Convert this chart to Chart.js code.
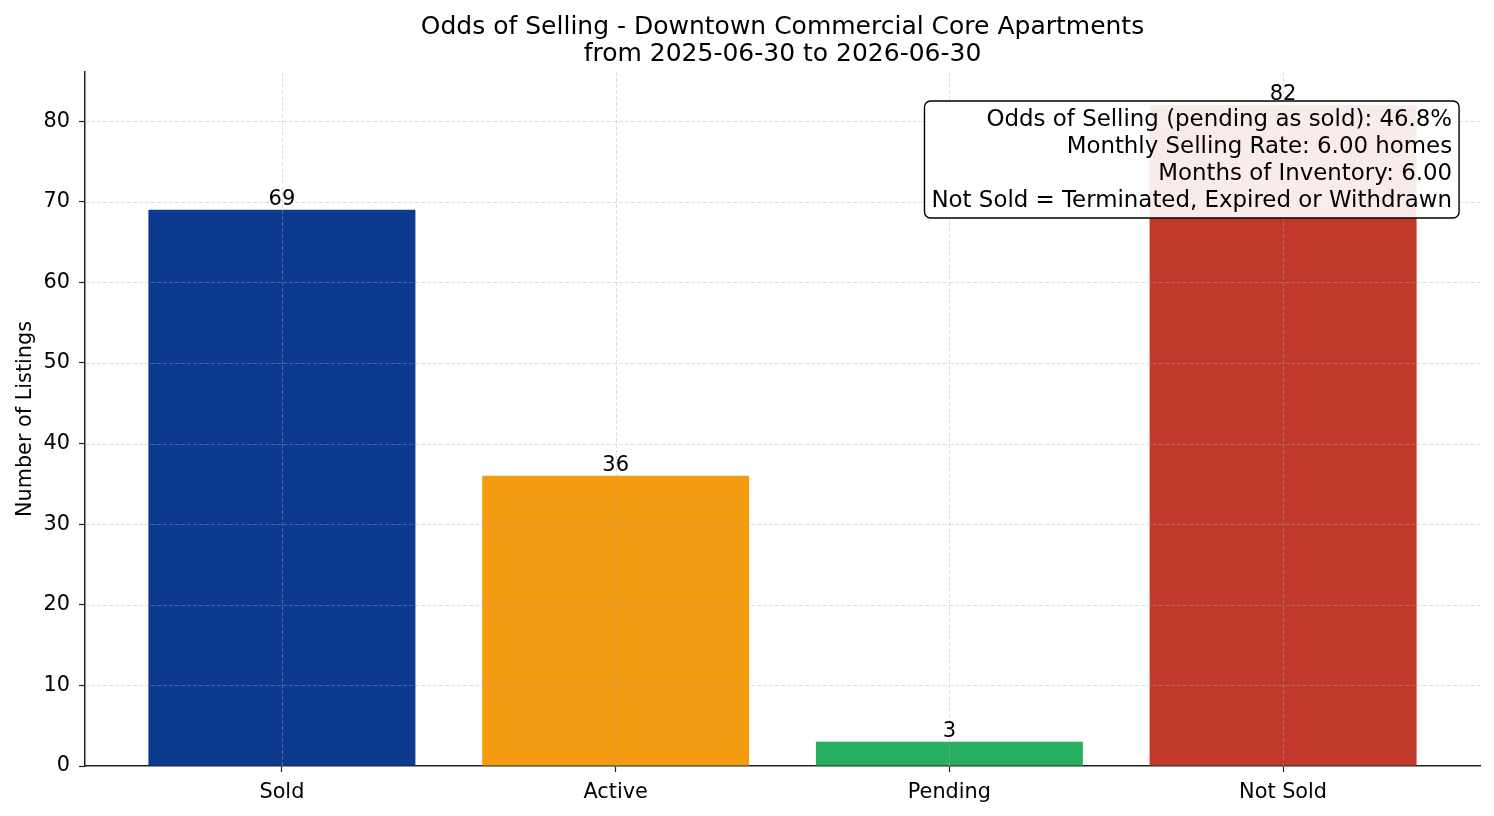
<!DOCTYPE html>
<html>
<head>
<meta charset="utf-8">
<script src="https://cdn.jsdelivr.net/npm/chart.js@4.4.1/dist/chart.umd.min.js"></script>
<style>
  html, body { margin: 0; padding: 0; background: #fff; }
  #wrap { width: 1494px; height: 816px; }
</style>
</head>
<body>
<div id="wrap"><canvas id="chart" width="1494" height="816"></canvas></div>
<script>
const categories = ["Sold", "Active", "Pending", "Not Sold"];
const counts = [69, 36, 3, 82];
const barColors = ["#0b3a8e", "#f39c12", "#27ae60", "#c0392b"];
const yTicks = [0, 10, 20, 30, 40, 50, 60, 70, 80];
const titleLines = ["Odds of Selling - Downtown Commercial Core Apartments", "from 2025-06-30 to 2026-06-30"];
const infoLines = [
  "Odds of Selling (pending as sold): 46.8%",
  "Monthly Selling Rate: 6.00 homes",
  "Months of Inventory: 6.00",
  "Not Sold = Terminated, Expired or Withdrawn"
];

const FONT = "'DejaVu Sans', sans-serif";

// title over the axes, grid over bars, value labels, info box
const overlay = {
  id: "overlay",
  afterDraw(chart) {
    const { ctx, chartArea: a } = chart;
    ctx.save();
    ctx.fillStyle = "#000";
    ctx.font = "25px " + FONT;
    ctx.textAlign = "center";
    ctx.textBaseline = "middle";
    const cx = (a.left + a.right) / 2;
    titleLines.forEach((t, i) => ctx.fillText(t, cx, 27 + i * 27));
    ctx.restore();
  },
  afterDatasetsDraw(chart) {
    const { ctx, chartArea: a, scales } = chart;
    ctx.save();
    ctx.strokeStyle = "rgba(176,176,176,0.5)";
    ctx.lineWidth = 0.8;
    ctx.setLineDash([4, 2]);
    yTicks.forEach(v => {
      if (v === 0) return;
      const y = Math.round(scales.y.getPixelForValue(v)) + 0.5;
      ctx.beginPath(); ctx.moveTo(a.left, y); ctx.lineTo(a.right, y); ctx.stroke();
    });
    categories.forEach((c, i) => {
      const x = Math.round(scales.x.getPixelForValue(i)) + 0.5;
      ctx.beginPath(); ctx.moveTo(x, a.top); ctx.lineTo(x, a.bottom); ctx.stroke();
    });
    ctx.setLineDash([]);

    // value labels
    ctx.fillStyle = "#000";
    ctx.font = "21px " + FONT;
    ctx.textAlign = "center";
    ctx.textBaseline = "alphabetic";
    chart.getDatasetMeta(0).data.forEach((bar, i) => {
      ctx.fillText(String(counts[i]), bar.x, bar.y - 5);
    });

    // info box
    ctx.font = "22.9px " + FONT;
    const lh = 26.7;
    const right = a.left + 0.98 * (a.right - a.left);
    const by = a.top + 29;
    const w = Math.max(...infoLines.map(t => ctx.measureText(t).width));
    const pad = 7;
    const bx = right - w - pad, bw = w + 2 * pad, bh = 117;
    ctx.beginPath();
    ctx.roundRect(bx, by, bw, bh, 6);
    ctx.fillStyle = "rgba(255,255,255,0.9)";
    ctx.fill();
    ctx.strokeStyle = "#000";
    ctx.lineWidth = 1.4;
    ctx.stroke();
    ctx.fillStyle = "#000";
    ctx.textAlign = "right";
    ctx.textBaseline = "middle";
    infoLines.forEach((t, i) => {
      ctx.fillText(t, right, by + 19.5 + i * lh);
    });
    ctx.restore();
  }
};

new Chart(document.getElementById("chart"), {
  type: "bar",
  data: {
    datasets: [{
      data: categories.map((c, i) => ({ x: i, y: counts[i] })),
      backgroundColor: barColors,
      borderWidth: 0,
      categoryPercentage: 0.8,
      barPercentage: 1.0
    }]
  },
  options: {
    responsive: false,
    animation: false,
    devicePixelRatio: 1,
    layout: { padding: { left: 0, right: 14, top: 72, bottom: 0 } },
    plugins: {
      legend: { display: false },
      tooltip: { enabled: false },
      title: { display: false }
    },
    scales: {
      x: {
        type: "linear",
        offset: false,
        min: -0.59,
        max: 3.59,
        afterBuildTicks: s => { s.ticks = categories.map((c, i) => ({ value: i })); },
        ticks: {
          autoSkip: false,
          maxRotation: 0,
          color: "#000",
          font: { family: FONT, size: 20.8 },
          padding: 8,
          callback: v => categories[v]
        },
        grid: { display: true, offset: false, drawOnChartArea: false, drawTicks: true, tickLength: 6, color: "#222", tickWidth: 1.2 },
        border: { display: true, color: "#222", width: 1.5 },
        afterFit: s => { s.height = 50; }
      },
      y: {
        min: 0,
        max: 86.1,
        afterBuildTicks: s => { s.ticks = yTicks.map(v => ({ value: v })); },
        ticks: {
          color: "#000",
          font: { family: FONT, size: 20.8 },
          padding: 9
        },
        grid: { display: true, drawOnChartArea: false, drawTicks: true, tickLength: 6, color: "#222", tickWidth: 1.2 },
        border: { display: true, color: "#222", width: 1.5 },
        title: {
          display: true,
          text: "Number of Listings",
          color: "#000",
          font: { family: FONT, size: 20.8 },
          padding: { top: 13, bottom: 0 }
        },
        afterFit: s => { s.width = 85; }
      }
    }
  },
  plugins: [overlay]
});
</script>
</body>
</html>
